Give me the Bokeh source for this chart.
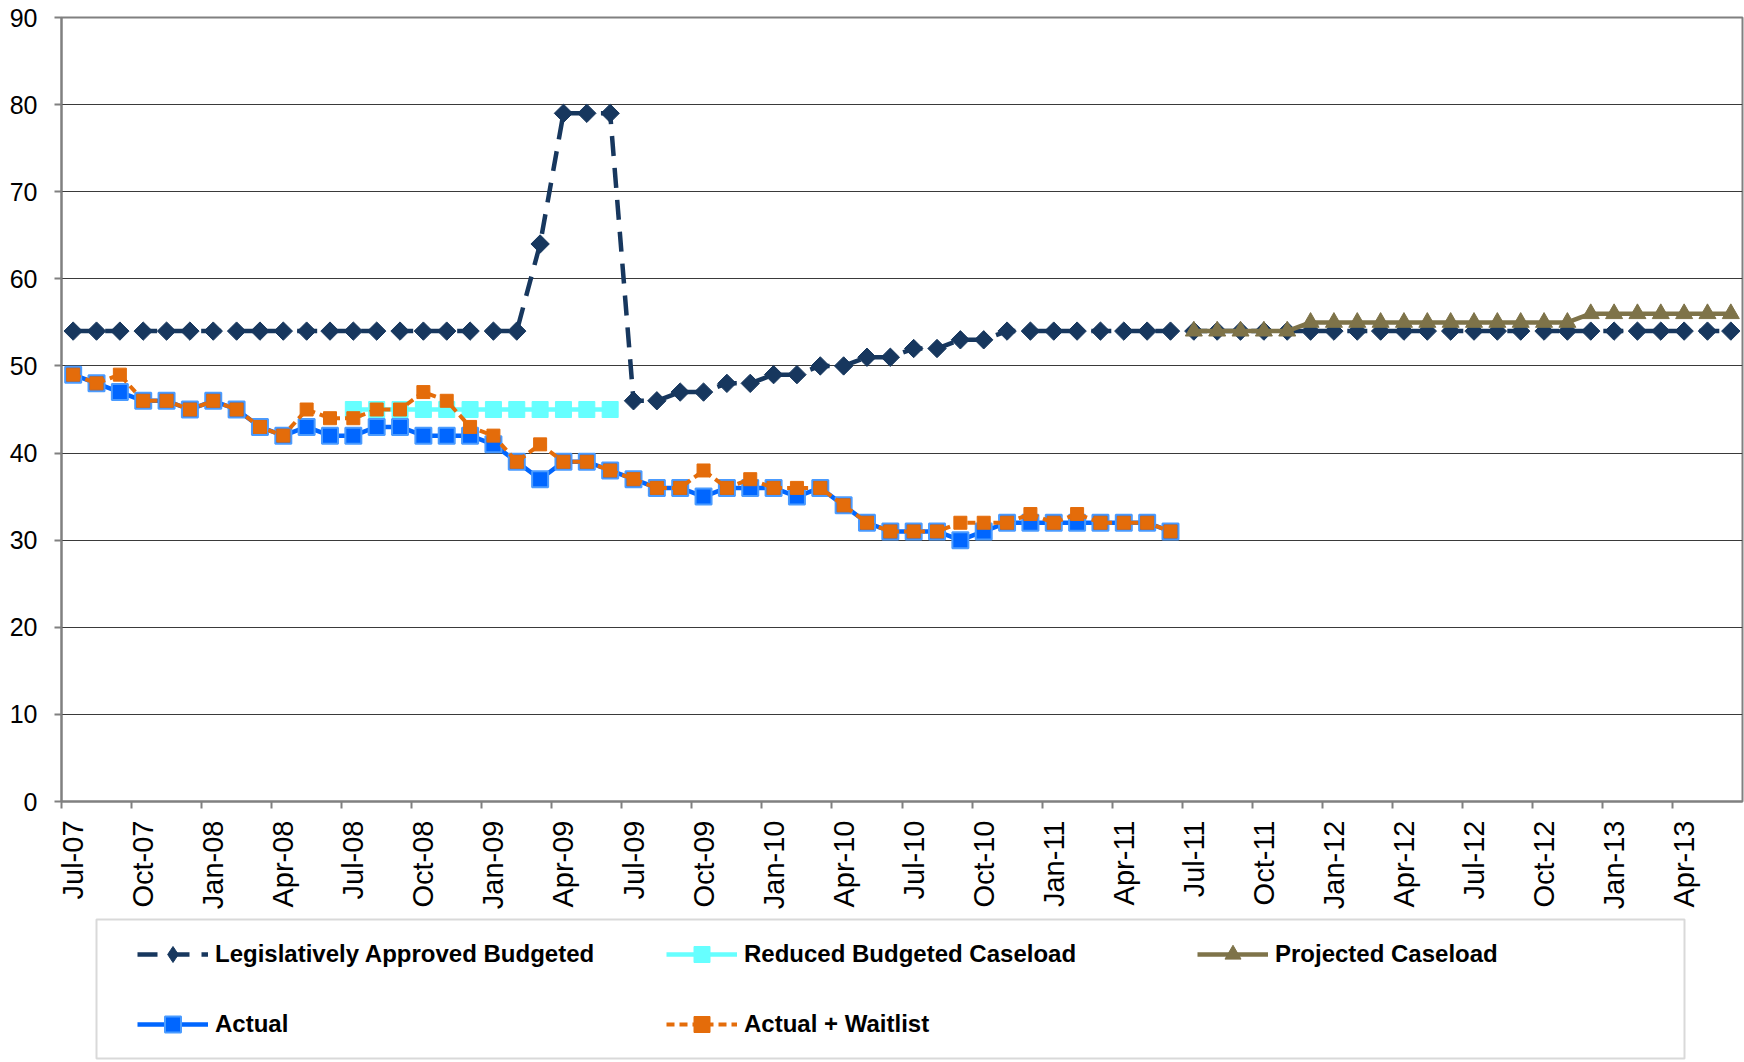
import numpy as np
from bokeh.plotting import figure
from bokeh.models import (Range1d, FixedTicker, LinearAxis, Legend, LegendItem, Grid,
                          BoxAnnotation)
from bokeh.layouts import column
from bokeh.embed import file_html
from bokeh.resources import INLINE

# ---------------- data ----------------
N_MONTHS = 72  # Jul-07 .. Jun-13
tick_labels = ["Jul-07", "Oct-07", "Jan-08", "Apr-08", "Jul-08", "Oct-08",
               "Jan-09", "Apr-09", "Jul-09", "Oct-09", "Jan-10", "Apr-10",
               "Jul-10", "Oct-10", "Jan-11", "Apr-11", "Jul-11", "Oct-11",
               "Jan-12", "Apr-12", "Jul-12", "Oct-12", "Jan-13", "Apr-13"]

NA = None
legislative = [54, 54, 54, 54, 54, 54, 54, 54, 54, 54, 54, 54,
               54, 54, 54, 54, 54, 54, 54, 54, 64, 79, 79, 79,
               46, 46, 47, 47, 48, 48, 49, 49, 50, 50, 51, 51,
               52, 52, 53, 53, 54, 54, 54, 54, 54, 54, 54, 54,
               54, 54, 54, 54, 54, 54, 54, 54, 54, 54, 54, 54,
               54, 54, 54, 54, 54, 54, 54, 54, 54, 54, 54, 54]
reduced = [NA] * 12 + [45, 45, 45, 45, 45, 45, 45, 45, 45, 45, 45, 45] + [NA] * 48
projected = [NA] * 48 + [54, 54, 54, 54, 54, 55, 55, 55, 55, 55, 55, 55,
                         55, 55, 55, 55, 55, 56, 56, 56, 56, 56, 56, 56]
actual = [49, 48, 47, 46, 46, 45, 46, 45, 43, 42, 43, 42,
          42, 43, 43, 42, 42, 42, 41, 39, 37, 39, 39, 38,
          37, 36, 36, 35, 36, 36, 36, 35, 36, 34, 32, 31,
          31, 31, 30, 31, 32, 32, 32, 32, 32, 32, 32, 31] + [NA] * 24
waitlist = [49, 48, 49, 46, 46, 45, 46, 45, 43, 42, 45, 44,
            44, 45, 45, 47, 46, 43, 42, 39, 41, 39, 39, 38,
            37, 36, 36, 38, 36, 37, 36, 36, 36, 34, 32, 31,
            31, 31, 32, 32, 32, 33, 32, 33, 32, 32, 32, 31] + [NA] * 24

series_labels = ["Legislatively Approved Budgeted", "Reduced Budgeted Caseload",
                 "Projected Caseload", "Actual", "Actual + Waitlist"]


def arr(v):
    return np.array([np.nan if a is None else a for a in v], dtype=float)


x = np.arange(N_MONTHS) + 0.5
tick_pos = [i * 3 for i in range(len(tick_labels))]
label_pos = [i * 3 + 0.5 for i in range(len(tick_labels))]

NAVY = "#17375E"
CYAN = "#66FFFF"
TAN = "#7E7349"
BLUE = "#0066FF"
BLUE_EDGE = "#4A9BFF"
ORANGE = "#E46C0A"
FONT = "Liberation Sans"
LW = 4.5

# styles per series: (color, marker, legend marker, size, dash, angle, edge, edge width, line width)
styles = [
    (NAVY, "square", "diamond", 13, "20 12", np.pi / 4, NAVY, 1, LW),
    (CYAN, "square", "square", 16, "solid", 0.0, CYAN, 1, LW),
    (TAN, "triangle", "triangle", 17, "solid", 0.0, TAN, 1, LW),
    (BLUE, "square", "square", 16, "solid", 0.0, BLUE_EDGE, 2, LW),
    (ORANGE, "square", "square", 13, "8 5", 0.0, ORANGE, 1, 4),
]
series = [legislative, reduced, projected, actual, waitlist]

W = 1744
BL, BR = 61, 2

# ---------------- chart ----------------
p = figure(width=W, height=912, x_range=Range1d(0, N_MONTHS), y_range=Range1d(0, 90),
           output_backend="svg", toolbar_location=None,
           x_axis_type=None, y_axis_type=None,
           min_border_left=BL, min_border_right=BR, min_border_top=17, min_border_bottom=109)
p.outline_line_color = "#808080"
p.outline_line_width = 2
p.border_fill_color = "white"

p.add_layout(Grid(dimension=1, ticker=FixedTicker(ticks=[10, 20, 30, 40, 50, 60, 70, 80]),
                  grid_line_color="#3a3a3a", grid_line_width=1))

yax = LinearAxis(ticker=FixedTicker(ticks=list(range(0, 91, 10))))
yax.axis_line_color = "#808080"
yax.axis_line_width = 2
yax.major_tick_line_color = "#808080"
yax.major_tick_line_width = 2
yax.major_tick_out = 7
yax.major_tick_in = 0
yax.minor_tick_out = 0
yax.minor_tick_in = 0
yax.major_label_standoff = 17
yax.major_label_text_font = FONT
yax.major_label_text_font_size = "25px"
yax.major_label_text_color = "black"
p.add_layout(yax, "left")

xax = LinearAxis(ticker=FixedTicker(ticks=label_pos, minor_ticks=tick_pos),
                 major_label_overrides={pos: lab for pos, lab in zip(label_pos, tick_labels)})
xax.axis_line_color = "#808080"
xax.axis_line_width = 2
xax.major_tick_line_color = None
xax.major_tick_out = 0
xax.major_tick_in = 0
xax.minor_tick_line_color = "#808080"
xax.minor_tick_line_width = 2
xax.minor_tick_out = 7
xax.minor_tick_in = 0
xax.major_label_standoff = 12
xax.major_label_orientation = np.pi / 2
xax.major_label_text_font = FONT
xax.major_label_text_font_size = "29px"
xax.major_label_text_color = "black"
p.add_layout(xax, "below")

for vals, (col, mk, lmk, sz, dash, ang, edge, ew, lw) in zip(series, styles):
    y = arr(vals)
    p.line(x, y, line_color=col, line_width=lw, line_dash=dash)
    p.scatter(x, y, marker=mk, size=sz, angle=ang, fill_color=col, line_color=edge,
              line_width=ew)

# ---------------- legend panel ----------------
QH = 148
FW = W - BL - BR
q = figure(width=W, height=QH, x_range=Range1d(0, FW), y_range=Range1d(0, QH),
           output_backend="svg", toolbar_location=None,
           x_axis_type=None, y_axis_type=None,
           min_border_left=BL, min_border_right=BR, min_border_top=0, min_border_bottom=0)
q.outline_line_color = None
q.xgrid.visible = False
q.ygrid.visible = False
q.border_fill_color = "white"
q.extra_y_ranges = {"hidden": Range1d(1000, 1001)}

q.add_layout(BoxAnnotation(left=35, right=1623, bottom=2, top=141,
                           fill_alpha=0, line_color="#808080", line_width=2))

items = []
for lab, vals, (col, mk, lmk, sz, dash, ang, edge, ew, lw) in zip(series_labels, series, styles):
    y = arr(vals)
    lr = q.line(x, y, line_color=col, line_width=lw, line_dash=dash, y_range_name="hidden")
    sr = q.scatter(x, y, marker=lmk, size=sz, fill_color=col, line_color=edge,
                   line_width=ew, y_range_name="hidden")
    items.append(LegendItem(label=lab, renderers=[lr, sr]))


def make_legend(its, loc):
    lg = Legend(items=its, location=loc, orientation="vertical",
                glyph_width=71, glyph_height=40, label_height=24, label_standoff=7,
                spacing=30, padding=0, margin=0,
                border_line_color=None, background_fill_alpha=0)
    lg.label_text_font = FONT
    lg.label_text_font_size = "24px"
    lg.label_text_font_style = "bold"
    lg.label_text_color = "black"
    return lg


q.add_layout(make_legend([items[0], items[3]], (76, 16)))
q.add_layout(make_legend([items[1], items[4]], (605, 16)))
q.add_layout(make_legend([items[2]], (1136, 86)))

layout = column(p, q, spacing=0)
open("out.html", "w").write(file_html(layout, INLINE))
